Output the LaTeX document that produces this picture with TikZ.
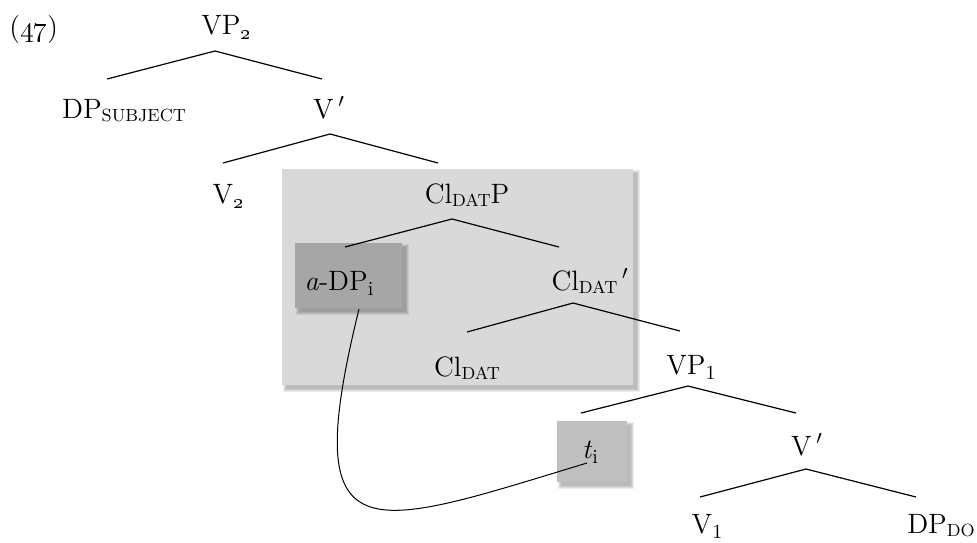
\documentclass[tikz,border=0pt]{standalone}

% subscript helpers
\newcommand{\lsub}[1]{\raisebox{-0.45ex}{\fontsize{10}{11}\selectfont #1}}
\newcommand{\csub}[1]{\raisebox{-0.25ex}{\fontsize{8.8}{10}\selectfont #1}}
\newcommand{\primemark}{\,$'$}

% shaded box with a soft drop shadow: corners (x1,y1) (x2,y2), fill colour
\newcommand{\shadedbox}[5]{%
  \foreach \k in {0,1,2,3}{%
    \fill[black, opacity=0.075] (#1+4-\k,#2+4-\k) rectangle (#3+4+\k,#4+4+\k);}
  \fill[#5] (#1,#2) rectangle (#3,#4);}

\definecolor{boxlight}{HTML}{D9D9D9}
\definecolor{boxdark}{HTML}{A6A6A6}
\definecolor{boxmid}{HTML}{BFBFBF}

\tikzset{
  lbl/.style={anchor=base, inner sep=0pt, font=\fontsize{14}{16}\selectfont},
  branch/.style={line width=0.6pt},
  movearc/.style={line width=0.5pt},
}

\begin{document}
\begin{tikzpicture}[x=0.5pt, y=-0.5pt]
\useasboundingbox (0,0) rectangle (977,542);

% shaded boxes
\shadedbox{282}{169}{633}{385}{boxlight}
\shadedbox{295}{243}{402}{308}{boxdark}
\shadedbox{557}{421}{627}{482}{boxmid}

% labels
\node[lbl, anchor=base west] (ex) at (9,36) {(\oldstylenums{47})};
\node[lbl] (vp2)    at (226,34)  {VP\lsub{\oldstylenums{2}}};
\node[lbl] (dps)    at (124,118) {DP\csub{SUBJECT}};
\node[lbl] (vbar2)  at (329,118) {V\primemark};
\node[lbl] (v2)     at (228,203) {V\lsub{\oldstylenums{2}}};
\node[lbl] (cldatp) at (467,203) {Cl\csub{DAT}P};
\node[lbl] (adp)    at (339,290) {\textit{a}-DP\lsub{i}};
\node[lbl] (clbar)  at (590,290) {Cl\csub{DAT}\primemark};
\node[lbl] (cldat)  at (467,376) {Cl\csub{DAT}};
\node[lbl] (vp1)    at (691,374) {VP\lsub{1}};
\node[lbl] (ti)     at (590,458) {\textit{t}\lsub{i}};
\node[lbl] (vbar1)  at (807,455) {V\primemark};
\node[lbl] (v1)     at (707,533) {V\lsub{1}};
\node[lbl] (dpdo)   at (941,533) {DP\csub{DO}};

% branch end points
\coordinate (vp2-a)    at (215,51);
\coordinate (dps-t)    at (107,79);
\coordinate (vbar2-t)  at (322,79);
\coordinate (vbar2-a)  at (330,134);
\coordinate (v2-t)     at (223,163);
\coordinate (cldatp-t) at (438,163);
\coordinate (cldatp-a) at (452,219);
\coordinate (adp-t)    at (345,247);
\coordinate (clbar-t)  at (559,247);
\coordinate (clbar-a)  at (573,303);
\coordinate (cldat-t)  at (467,332);
\coordinate (vp1-t)    at (680,331);
\coordinate (vp1-a)    at (688,386);
\coordinate (ti-t)     at (581,413);
\coordinate (vbar1-t)  at (796,413);
\coordinate (vbar1-a)  at (806,469);
\coordinate (v1-t)     at (700,497);
\coordinate (dpdo-t)   at (916,497);

\draw[branch] (dps-t) -- (vp2-a) -- (vbar2-t);
\draw[branch] (v2-t) -- (vbar2-a) -- (cldatp-t);
\draw[branch] (adp-t) -- (cldatp-a) -- (clbar-t);
\draw[branch] (cldat-t) -- (clbar-a) -- (vp1-t);
\draw[branch] (ti-t) -- (vp1-a) -- (vbar1-t);
\draw[branch] (v1-t) -- (vbar1-a) -- (dpdo-t);

% movement line from the trace to its antecedent
\coordinate (arc-from) at (359,309);
\coordinate (arc-to)   at (587,463);
\draw[movearc] (arc-from) .. controls (297,561) and (366,530) .. (arc-to);
\end{tikzpicture}
\end{document}
